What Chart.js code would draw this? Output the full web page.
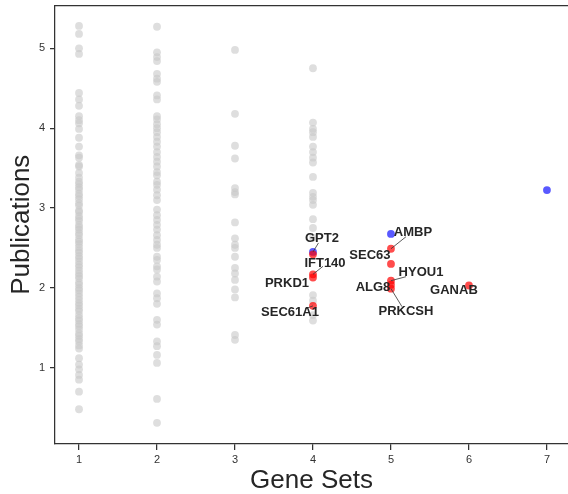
<!DOCTYPE html>
<html>
<head>
<meta charset="utf-8">
<script src="https://cdn.jsdelivr.net/npm/chart.js@4.4.1/dist/chart.umd.min.js"></script>
<style>
  html, body { margin: 0; padding: 0; background: #fff; }
  canvas { display: block; }
</style>
</head>
<body>
<canvas id="myChart" width="568" height="494"></canvas>
<script>
"use strict";
// publications (log scale values) per number of gene sets, background genes
const pubs1 = [5.28, 5.18, 5.00, 4.93, 4.44, 4.36, 4.28, 4.15, 4.10, 4.06, 3.99, 3.88, 3.77,
  3.66, 3.63, 3.54, 3.52, 3.44, 3.38, 3.33, 3.30, 3.26, 3.23, 3.18, 3.15, 3.11, 3.06, 3.03,
  2.97, 2.95, 2.90, 2.87, 2.84, 2.79, 2.76, 2.73, 2.69, 2.66, 2.61, 2.58, 2.55, 2.51, 2.47,
  2.44, 2.40, 2.37, 2.33, 2.29, 2.26, 2.22, 2.18, 2.15, 2.12, 2.07, 2.04, 2.00, 1.97, 1.93,
  1.89, 1.85, 1.81, 1.78, 1.74, 1.71, 1.66, 1.62, 1.59, 1.55, 1.52, 1.48, 1.43, 1.40, 1.36,
  1.33, 1.28, 1.24, 1.12, 1.04, 0.98, 0.91, 0.85, 0.70, 0.48];
const pubs2 = [5.27, 4.95, 4.89, 4.84, 4.68, 4.62, 4.58, 4.41, 4.36, 4.15, 4.11, 4.05, 4.00,
  3.95, 3.89, 3.83, 3.77, 3.70, 3.64, 3.58, 3.52, 3.45, 3.41, 3.33, 3.29, 3.23, 3.16, 3.10,
  2.98, 2.91, 2.85, 2.79, 2.73, 2.66, 2.60, 2.54, 2.50, 2.39, 2.35, 2.27, 2.23, 2.14, 2.08,
  1.93, 1.87, 1.80, 1.60, 1.54, 1.33, 1.27, 1.16, 1.06, 0.61, 0.31];
const pubs3 = [4.98, 4.18, 3.78, 3.62, 3.25, 3.20, 3.17, 2.82, 2.62, 2.54, 2.50, 2.39, 2.25,
  2.18, 2.10, 1.98, 1.88, 1.41, 1.35];
const pubs4 = [4.75, 4.07, 3.99, 3.95, 3.89, 3.77, 3.70, 3.63, 3.57, 3.39, 3.19, 3.14, 3.10,
  3.04, 2.86, 2.75, 2.63, 1.91, 1.84, 1.66, 1.59];

// highlighted genes
const redGenes = ["", "IFT140", "PRKD1", "SEC61A1", "AMBP", "SEC63", "HYOU1", "ALG8", "PRKCSH", "GANAB"];
const redSets = [4, 4, 4, 4, 5, 5, 5, 5, 5, 6];
const redPubs = [2.42, 2.17, 2.13, 1.775, 2.49, 2.30, 2.09, 2.04, 1.99, 2.03];
const blueGenes = ["GPT2", "", ""];
const blueSets = [4, 5, 7];
const bluePubs = [2.45, 2.675, 3.225];

const xTicks = [1, 2, 3, 4, 5, 6, 7];
const yTicks = [1, 2, 3, 4, 5];

// label placement (pixel offsets from the point), line end offsets
const labelPos = {
  GPT2:    { dx: 9,   dy: -14, lx: 5.5, ly: -9 },
  IFT140:  { dx: 12,  dy: -11, lx: 10,  ly: -8 },
  PRKD1:   { dx: -26, dy: 6 },
  SEC61A1: { dx: -23, dy: 7,   lx: -8,  ly: 3 },
  AMBP:    { dx: 22,  dy: -16, lx: 15,  ly: -12 },
  SEC63:   { dx: -21, dy: -8 },
  HYOU1:   { dx: 30,  dy: -8,  lx: 15,  ly: -4 },
  ALG8:    { dx: -18, dy: 2.5 },
  PRKCSH:  { dx: 15,  dy: 23,  lx: 11,  ly: 18 },
  GANAB:   { dx: -15, dy: 4.5 }
};

const FONT = "'Liberation Sans', Arial, sans-serif";

const greyPoints = [];
[pubs1, pubs2, pubs3, pubs4].forEach((arr, i) => {
  arr.forEach(v => greyPoints.push({ x: i + 1, y: v }));
});
const redPoints = redPubs.map((v, i) => ({ x: redSets[i], y: v, gene: redGenes[i] }));
const bluePoints = bluePubs.map((v, i) => ({ x: blueSets[i], y: v, gene: blueGenes[i] }));

// top border + gene labels
const labelPlugin = {
  id: "geneLabels",
  afterDatasetsDraw(chart) {
    const ctx = chart.ctx;
    const xs = chart.scales.x, ys = chart.scales.y;
    const area = chart.chartArea;
    ctx.save();
    ctx.strokeStyle = "#333";
    ctx.lineWidth = 1.25;
    ctx.beginPath();
    ctx.moveTo(area.left, area.top);
    ctx.lineTo(area.right, area.top);
    ctx.stroke();

    ctx.font = "bold 13px " + FONT;
    ctx.textAlign = "center";
    ctx.textBaseline = "middle";
    redPoints.concat(bluePoints).forEach(p => {
      if (!p.gene) return;
      const pos = labelPos[p.gene];
      const px = xs.getPixelForValue(p.x);
      const py = ys.getPixelForValue(p.y);
      if (pos.lx !== undefined) {
        ctx.strokeStyle = "#333";
        ctx.lineWidth = 0.8;
        ctx.beginPath();
        ctx.moveTo(px, py);
        ctx.lineTo(px + pos.lx, py + pos.ly);
        ctx.stroke();
      }
      ctx.fillStyle = "#262626";
      ctx.fillText(p.gene, px + pos.dx, py + pos.dy);
    });
    ctx.restore();
  }
};

const ctx = document.getElementById("myChart").getContext("2d");
const myChart = new Chart(ctx, {
  type: "scatter",
  data: {
    datasets: [
      { data: greyPoints, backgroundColor: "rgba(200,200,200,0.6)", borderWidth: 0, pointRadius: 3.9, order: 3 },
      { data: bluePoints, backgroundColor: "rgba(0,0,255,0.65)", borderWidth: 0, pointRadius: 3.9, order: 2 },
      { data: redPoints, backgroundColor: "rgba(255,0,0,0.7)", borderWidth: 0, pointRadius: 3.9, order: 1 }
    ]
  },
  options: {
    responsive: false,
    animation: false,
    layout: { autoPadding: false, padding: { top: 5.5, right: 0, left: 0, bottom: 0 } },
    plugins: { legend: { display: false }, tooltip: { enabled: false } },
    scales: {
      x: {
        type: "linear",
        min: 0.692,
        max: 7.27,
        afterFit(s) { s.height = 50; s.paddingLeft = 0; s.paddingRight = 0; },
        afterBuildTicks(s) { s.ticks = xTicks.map(v => ({ value: v })); },
        ticks: { font: { size: 11, family: FONT }, color: "#333", padding: 3 },
        grid: { drawOnChartArea: false, drawTicks: true, tickLength: 6, color: "#333", lineWidth: 1.25 },
        border: { color: "#333", width: 1.25 },
        title: { display: true, text: "Gene Sets", color: "#262626",
          font: { size: 26, family: FONT, lineHeight: 1 }, padding: { top: 0, bottom: 0 } }
      },
      y: {
        type: "linear",
        min: 0.045,
        max: 5.536,
        afterFit(s) { s.width = 55; s.paddingTop = 0; s.paddingBottom = 0; },
        afterBuildTicks(s) { s.ticks = yTicks.map(v => ({ value: v })); },
        ticks: { font: { size: 11, family: FONT }, color: "#333", padding: 5 },
        grid: { drawOnChartArea: false, drawTicks: true, tickLength: 5, color: "#333", lineWidth: 1.25 },
        border: { color: "#333", width: 1.25 },
        title: { display: true, text: "Publications", color: "#262626",
          font: { size: 26, family: FONT, lineHeight: 1 }, padding: { top: 9, bottom: 0 } }
      }
    }
  },
  plugins: [labelPlugin]
});
</script>
</body>
</html>
